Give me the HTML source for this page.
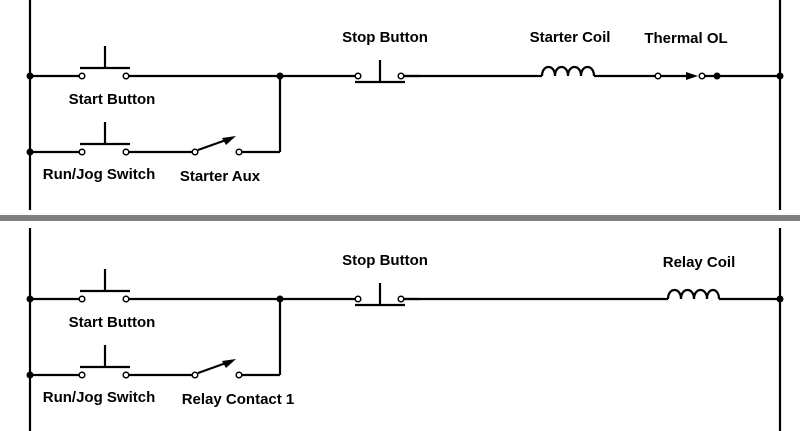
<!DOCTYPE html>
<html><head><style>html,body{margin:0;padding:0;background:#fff;}svg{display:block}</style></head>
<body>
<svg width="800" height="431" viewBox="0 0 800 431" xmlns="http://www.w3.org/2000/svg" font-family="Liberation Sans, Arial, sans-serif" font-weight="bold" font-size="15">
<rect x="0" y="215" width="800" height="6" fill="#808080"/>
<g stroke="#000" stroke-width="2.2" fill="none">
<line x1="30" y1="0" x2="30" y2="210"/>
<line x1="780" y1="0" x2="780" y2="210"/>
<line x1="30" y1="228" x2="30" y2="431"/>
<line x1="780" y1="228" x2="780" y2="431"/>
</g>
<defs>
<g id="left">
 <g stroke="#000" stroke-width="2.2" fill="none">
 <line x1="30" y1="0" x2="79" y2="0"/>
 <line x1="129" y1="0" x2="355" y2="0"/>
 <line x1="80" y1="-8" x2="130" y2="-8"/><line x1="105" y1="-8" x2="105" y2="-30"/>
 <line x1="30" y1="76" x2="79" y2="76"/>
 <line x1="129" y1="76" x2="192" y2="76"/>
 <line x1="80" y1="68" x2="130" y2="68"/><line x1="105" y1="68" x2="105" y2="46"/>
 <line x1="242" y1="76" x2="280" y2="76"/><line x1="280" y1="0" x2="280" y2="76"/>
 <line x1="198" y1="74" x2="226" y2="64"/>
 <line x1="404" y1="0" x2="420" y2="0"/>
 <line x1="355" y1="6" x2="405" y2="6"/><line x1="380" y1="6" x2="380" y2="-16"/>
 </g>
 <polygon points="236,60 222,62 226,69" fill="#000"/>
 <g fill="#fff" stroke="#000" stroke-width="1.5">
 <circle cx="82" cy="0" r="2.8"/><circle cx="126" cy="0" r="2.8"/>
 <circle cx="82" cy="76" r="2.8"/><circle cx="126" cy="76" r="2.8"/>
 <circle cx="195" cy="76" r="2.8"/><circle cx="239" cy="76" r="2.8"/>
 <circle cx="358" cy="0" r="2.8"/><circle cx="401" cy="0" r="2.8"/>
 </g>
 <g fill="#000"><circle cx="30" cy="0" r="3.5"/><circle cx="30" cy="76" r="3.5"/><circle cx="280" cy="0" r="3.5"/></g>
 <text x="112" y="28" text-anchor="middle">Start Button</text>
 <text x="99" y="103" text-anchor="middle">Run/Jog Switch</text>
 <text x="385" y="-34" text-anchor="middle">Stop Button</text>
</g>
</defs>
<use href="#left" transform="translate(0,76)"/>
<use href="#left" transform="translate(0,299)"/>
<g stroke="#000" stroke-width="2.2" fill="none">
 <line x1="404" y1="76" x2="542" y2="76"/>
 <path d="M542 76 C542 64 555 64 555 76 C555 64 568 64 568 76 C568 64 581 64 581 76 C581 64 594 64 594 76"/>
 <line x1="594" y1="76" x2="656" y2="76"/>
 <line x1="660" y1="76" x2="686" y2="76"/>
 <line x1="704" y1="76" x2="780" y2="76"/>
 <line x1="404" y1="299" x2="668" y2="299"/>
 <path d="M668 299 C668 287 681 287 681 299 C681 287 694 287 694 299 C694 287 707 287 707 299 C707 287 719 287 719 299"/>
 <line x1="719" y1="299" x2="780" y2="299"/>
</g>
<polygon points="686,72 698,76 686,80" fill="#000"/>
<g fill="#fff" stroke="#000" stroke-width="1.5"><circle cx="658" cy="76" r="2.8"/><circle cx="702" cy="76" r="2.8"/></g>
<g fill="#000"><circle cx="717" cy="76" r="3.5"/><circle cx="780" cy="76" r="3.5"/><circle cx="780" cy="299" r="3.5"/></g>
<text x="220" y="181" text-anchor="middle">Starter Aux</text>
<text x="570" y="42" text-anchor="middle">Starter Coil</text>
<text x="686" y="43" text-anchor="middle">Thermal OL</text>
<text x="238" y="404" text-anchor="middle">Relay Contact 1</text>
<text x="699" y="267" text-anchor="middle">Relay Coil</text>
</svg>
</body></html>
